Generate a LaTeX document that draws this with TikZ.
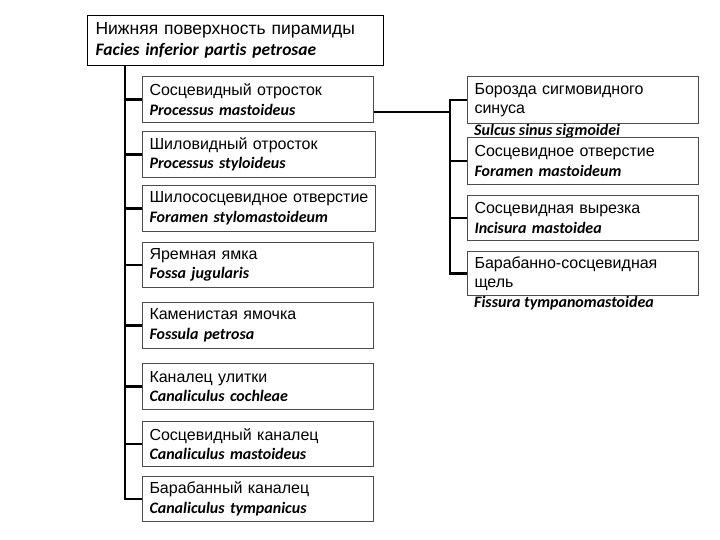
\documentclass[tikz,border=0pt]{standalone}
\usepackage{fontspec}
\setmainfont{Liberation Sans}
\newfontfamily\latfont[Ligatures=NoCommon]{Carlito}
\usetikzlibrary{positioning,calc}

\newcommand{\lat}[1]{{\latfont\bfseries\itshape #1}}

\begin{document}
\begin{tikzpicture}[x=1pt,y=-1pt,
  my box/.style={
    draw=black!70, line width=1pt, anchor=north west, align=left,
    inner xsep=7pt, inner ysep=0pt, text width=217pt,
    font=\fontsize{16}{19.5}\selectfont,
  },
  my title/.style={
    draw=black, line width=1.1pt, anchor=north west, align=left,
    inner xsep=8pt, inner ysep=0pt, text width=280pt, minimum height=50pt,
    font=\fontsize{17.5}{21}\selectfont,
  },
  my lat/.style={anchor=west, inner sep=0pt, font=\fontsize{16}{19.5}\selectfont},
  my link/.style={draw=black, line width=2.4pt},
  ]
  \useasboundingbox (0,0) rectangle (720,540);

  % top
  \node[my title] (top) at (87,15) {Нижняя поверхность пирамиды\\\lat{Facies inferior partis petrosae}};

  % left column
  \node[my box, minimum height=46pt] (m1) at (142,76) {Сосцевидный отросток\\\lat{Processus mastoideus}};
  \node[my box, minimum height=46pt, text width=219pt] (m2) at (142,131) {Шиловидный отросток\\\lat{Processus styloideus}};
  \node[my box, minimum height=46pt, text width=219pt] (m3) at (142,185) {Шилососцевидное отверстие\\\lat{Foramen stylomastoideum}};
  \node[my box, minimum height=45pt] (m4) at (142,242) {Яремная ямка\\\lat{Fossa jugularis}};
  \node[my box, minimum height=46pt] (m5) at (142,302) {Каменистая ямочка\\\lat{Fossula petrosa}};
  \node[my box, minimum height=46pt] (m6) at (142,363) {Каналец улитки\\\lat{Canaliculus cochleae}};
  \node[my box, minimum height=45pt] (m7) at (142,421) {Сосцевидный каналец\\\lat{Canaliculus mastoideus}};
  \node[my box, minimum height=45pt] (m8) at (142,476) {Барабанный каналец\\\lat{Canaliculus tympanicus}};

  % right column
  \node[my box, minimum height=47pt] (r1) at (467,76) {Борозда сигмовидного\\синуса};
  \node[my lat] (r1l) at ($(r1.south west)+(7,7)$) {\lat{Sulcus sinus sigmoidei}};
  \node[my box, minimum height=47pt] (r2) at (467,137) {Сосцевидное отверстие\\\lat{Foramen mastoideum}};
  \node[my box, minimum height=45pt] (r3) at (467,195) {Сосцевидная вырезка\\\lat{Incisura mastoidea}};
  \node[my box, minimum height=44pt] (r4) at (467,251) {Барабанно-сосцевидная\\щель};
  \node[my lat] (r4l) at ($(r4.south west)+(7,7)$) {\lat{Fissura tympanomastoidea}};

  % links
  \coordinate (lt) at ($(top.south west)+(38,0)$);
  \draw[my link] (lt) |- (m8.west);
  \draw[my link] (m1.west) -- (m1.west -| lt);
  \draw[my link] (m2.west) -- (m2.west -| lt);
  \draw[my link] (m3.west) -- (m3.west -| lt);
  \draw[my link] (m4.west) -- (m4.west -| lt);
  \draw[my link] (m5.west) -- (m5.west -| lt);
  \draw[my link] (m6.west) -- (m6.west -| lt);
  \draw[my link] (m7.west) -- (m7.west -| lt);

  \coordinate (rt) at (450,99);
  \coordinate (m1out) at ($(m1.south east)+(0,-11)$);
  \draw[my link] (m1out) -- (m1out -| rt);
  \draw[my link] (r1.west) -| (r4.west -| rt) -- (r4.west);
  \draw[my link] (r2.west) -- (r2.west -| rt);
  \draw[my link] (r3.west) -- (r3.west -| rt);
\end{tikzpicture}
\end{document}
